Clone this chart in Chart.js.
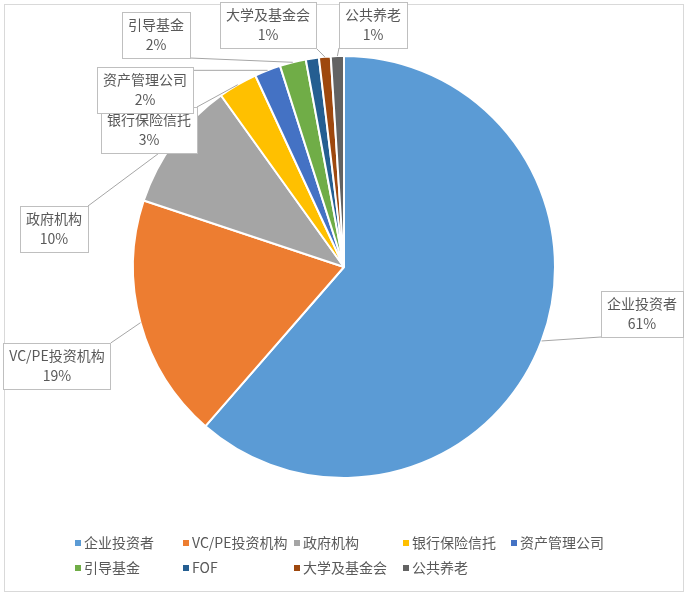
<!DOCTYPE html>
<html lang="zh">
<head>
  <meta charset="UTF-8">
  <title>投资者构成</title>
  <script src="https://cdn.jsdelivr.net/npm/chart.js"></script>
  <style>
    html, body { margin: 0; padding: 0; background: #fff; }
    #wrap { width: 688px; height: 600px; position: relative; }
  </style>
</head>
<body>
  <div id="wrap"><canvas id="pieChart"></canvas></div>
  <script>
    // data
    const categories = ['企业投资者', 'VC/PE投资机构', '政府机构', '银行保险信托', '资产管理公司',
                        '引导基金', 'FOF', '大学及基金会', '公共养老'];
    const shares = [61.4, 18.7, 10.0, 3.0, 2.0, 2.0, 1.0, 0.9, 1.0];
    const showLabel = [true, true, true, true, true, true, false, true, true];

    const sliceColors = ['#5B9BD5', '#ED7D31', '#A5A5A5', '#FFC000', '#4472C4',
                         '#70AD47', '#255E91', '#9E480E', '#636363'];

    // callout box centres (layout only)
    const calloutPos = [[642, 314], [57, 366], [54, 229], [149, 130], [145, 90],
                        [156, 35], null, [268, 25], [373, 25]];
    const legendCols = [78, 186, 297, 406, 514];
    const legendRows = [543, 568];

    const FONT = '"Noto Sans CJK SC", "Noto Sans", sans-serif';
    const TEXT = '#595959';

    // frame around the whole chart
    const framePlugin = {
      id: 'frame',
      beforeDraw(chart) {
        const ctx = chart.ctx;
        ctx.save();
        ctx.strokeStyle = '#d9d9d9';
        ctx.lineWidth = 1;
        ctx.strokeRect(4.5, 4.5, 679, 587);
        ctx.restore();
      }
    };

    // excel style callouts with leader lines
    const calloutPlugin = {
      id: 'callouts',
      afterDatasetsDraw(chart) {
        const ctx = chart.ctx;
        const meta = chart.getDatasetMeta(0);
        const total = shares.reduce((a, b) => a + b, 0);
        ctx.save();
        ctx.font = '14px ' + FONT;
        meta.data.forEach((arc, i) => {
          if (!showLabel[i] || !calloutPos[i]) return;
          const mid = (arc.startAngle + arc.endAngle) / 2;
          const px = arc.x + Math.cos(mid) * arc.outerRadius;
          const py = arc.y + Math.sin(mid) * arc.outerRadius;
          const pct = Math.round(shares[i] / total * 100) + '%';
          const w = Math.max(ctx.measureText(categories[i]).width, ctx.measureText(pct).width) + 12;
          const h = 46;
          const [cx, cy] = calloutPos[i];
          const l = cx - w / 2, t = cy - h / 2;
          // leader line
          const ax = Math.min(Math.max(px, l), l + w);
          const ay = Math.min(Math.max(py, t), t + h);
          ctx.strokeStyle = '#a6a6a6';
          ctx.lineWidth = 1;
          ctx.beginPath();
          ctx.moveTo(ax, ay);
          ctx.lineTo(px, py);
          ctx.stroke();
          // box
          ctx.fillStyle = '#fff';
          ctx.fillRect(l, t, w, h);
          ctx.strokeStyle = '#bfbfbf';
          ctx.strokeRect(Math.round(l) + 0.5, Math.round(t) + 0.5, Math.round(w), h);
          ctx.fillStyle = TEXT;
          ctx.textAlign = 'center';
          ctx.textBaseline = 'middle';
          ctx.fillText(categories[i], cx, cy - 10);
          ctx.fillText(pct, cx, cy + 10);
        });
        ctx.restore();
      }
    };

    // two-row legend on fixed columns
    const legendPlugin = {
      id: 'gridLegend',
      afterDraw(chart) {
        const ctx = chart.ctx;
        ctx.save();
        ctx.font = '14px ' + FONT;
        ctx.textBaseline = 'middle';
        ctx.textAlign = 'left';
        categories.forEach((name, i) => {
          const x = legendCols[i % 5];
          const y = legendRows[Math.floor(i / 5)];
          ctx.fillStyle = sliceColors[i];
          ctx.fillRect(x - 3, y - 3, 6, 6);
          ctx.fillStyle = TEXT;
          ctx.fillText(name, x + 6, y);
        });
        ctx.restore();
      }
    };

    new Chart(document.getElementById('pieChart'), {
      type: 'pie',
      data: {
        labels: categories,
        datasets: [{
          data: shares,
          backgroundColor: sliceColors,
          borderColor: '#ffffff',
          borderWidth: 2
        }]
      },
      options: {
        responsive: true,
        maintainAspectRatio: false,
        animation: false,
        layout: { padding: { top: 55, bottom: 121, left: 132, right: 132 } },
        plugins: {
          legend: { display: false },
          tooltip: { enabled: false }
        }
      },
      plugins: [framePlugin, calloutPlugin, legendPlugin]
    });
  </script>
</body>
</html>
